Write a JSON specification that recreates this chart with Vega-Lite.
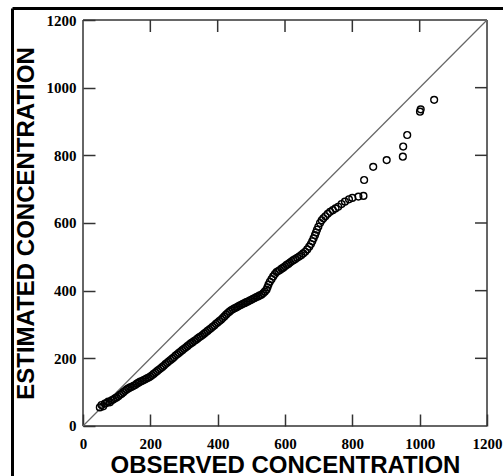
{
  "$schema": "https://vega.github.io/schema/vega-lite/v6.json",
  "width": 491,
  "height": 468,
  "autosize": "none",
  "padding": {"left": 12, "top": 8, "right": 0, "bottom": 0},
  "background": "white",
  "config": {
    "view": {"stroke": null},
    "axis": {"grid": false, "domain": false, "labelFlush": false, "tickColor": "#333", "tickWidth": 1.5, "tickSize": -12}
  },
  "resolve": {"axis": {"x": "independent", "y": "independent"}},
  "layer": [
    {
      "data": {"values": [
        {"x": 0, "y": 0, "x2": 1200, "y2": 0},
        {"x": 0, "y": 1200, "x2": 1200, "y2": 1200},
        {"x": 0, "y": 0, "x2": 0, "y2": 1200},
        {"x": 1200, "y": 0, "x2": 1200, "y2": 1200},
        {"x": 200, "y": 1200, "x2": 200, "y2": 1164.5},
        {"x": 400, "y": 1200, "x2": 400, "y2": 1164.5},
        {"x": 600, "y": 1200, "x2": 600, "y2": 1164.5},
        {"x": 800, "y": 1200, "x2": 800, "y2": 1164.5},
        {"x": 1000, "y": 1200, "x2": 1000, "y2": 1164.5},
        {"x": 1200, "y": 200, "x2": 1164.4, "y2": 200},
        {"x": 1200, "y": 400, "x2": 1164.4, "y2": 400},
        {"x": 1200, "y": 600, "x2": 1164.4, "y2": 600},
        {"x": 1200, "y": 800, "x2": 1164.4, "y2": 800},
        {"x": 1200, "y": 1000, "x2": 1164.4, "y2": 1000}
      ]},
      "mark": {"type": "rule", "stroke": "#333", "strokeWidth": 1.5},
      "encoding": {
        "x": {"field": "x", "type": "quantitative", "scale": {"domain": [-210.9, 1247.5], "nice": false, "zero": false},
              "axis": {"orient": "top", "offset": 0, "domain": true, "domainColor": "black", "domainWidth": 3, "ticks": false, "labels": false, "title": null}},
        "y": {"field": "y", "type": "quantitative", "scale": {"domain": [-147.8, 1235.47], "nice": false, "zero": false},
              "axis": {"orient": "right", "offset": -491, "domain": true, "domainColor": "black", "domainWidth": 3, "ticks": false, "labels": false, "title": null}},
        "x2": {"field": "x2"},
        "y2": {"field": "y2"}
      }
    },
    {
      "data": {"values": [{"x": 0, "y": 0, "x2": 1200, "y2": 1200}]},
      "mark": {"type": "rule", "stroke": "#666", "strokeWidth": 1.2},
      "encoding": {
        "x": {"field": "x", "type": "quantitative", "scale": {"domain": [-210.9, 1247.5], "nice": false, "zero": false}, "axis": null},
        "y": {"field": "y", "type": "quantitative", "scale": {"domain": [-147.8, 1235.47], "nice": false, "zero": false}, "axis": null},
        "x2": {"field": "x2"},
        "y2": {"field": "y2"}
      }
    },
    {
      "data": {"values": [
        {"o":50,"e":55},{"o":55,"e":62},{"o":60,"e":58},{"o":65,"e":66},{"o":70,"e":68},{"o":75,"e":72},{"o":80,"e":70},{"o":85,"e":76},{"o":90,"e":78},{"o":95,"e":82},
        {"o":100,"e":84},{"o":105,"e":88},{"o":110,"e":92},{"o":115,"e":95},{"o":120,"e":100},{"o":125,"e":104},{"o":130,"e":108},{"o":135,"e":111},{"o":140,"e":114},{"o":145,"e":116},
        {"o":150,"e":119},{"o":155,"e":121},{"o":160,"e":125},{"o":165,"e":128},{"o":170,"e":131},{"o":175,"e":133},{"o":180,"e":136},{"o":185,"e":138},{"o":190,"e":141},{"o":195,"e":143},
        {"o":200,"e":146},{"o":205,"e":150},{"o":210,"e":154},{"o":215,"e":158},{"o":220,"e":162},{"o":225,"e":166},{"o":230,"e":170},{"o":235,"e":174},{"o":240,"e":178},{"o":245,"e":183},
        {"o":250,"e":187},{"o":255,"e":191},{"o":260,"e":195},{"o":265,"e":199},{"o":270,"e":203},{"o":275,"e":208},{"o":280,"e":212},{"o":285,"e":216},{"o":290,"e":220},{"o":295,"e":224},
        {"o":300,"e":228},{"o":305,"e":232},{"o":310,"e":236},{"o":315,"e":240},{"o":320,"e":244},{"o":325,"e":247},{"o":330,"e":251},{"o":335,"e":254},{"o":340,"e":258},{"o":345,"e":262},
        {"o":350,"e":265},{"o":355,"e":269},{"o":360,"e":273},{"o":365,"e":277},{"o":370,"e":281},{"o":375,"e":285},{"o":380,"e":289},{"o":385,"e":293},{"o":390,"e":297},{"o":395,"e":302},
        {"o":400,"e":306},{"o":405,"e":310},{"o":410,"e":314},{"o":415,"e":319},{"o":420,"e":324},{"o":425,"e":329},{"o":430,"e":334},{"o":435,"e":338},{"o":440,"e":342},{"o":445,"e":345},
        {"o":450,"e":348},{"o":455,"e":350},{"o":460,"e":353},{"o":465,"e":356},{"o":470,"e":358},{"o":475,"e":361},{"o":480,"e":363},{"o":485,"e":366},{"o":490,"e":368},{"o":495,"e":371},
        {"o":500,"e":373},{"o":505,"e":376},{"o":510,"e":378},{"o":515,"e":381},{"o":520,"e":383},{"o":525,"e":386},{"o":530,"e":388},{"o":535,"e":392},{"o":540,"e":397},{"o":545,"e":403},
        {"o":548,"e":410},{"o":551,"e":418},{"o":555,"e":426},{"o":560,"e":434},{"o":565,"e":442},{"o":570,"e":449},{"o":575,"e":455},{"o":580,"e":458},{"o":585,"e":461},{"o":590,"e":465},
        {"o":595,"e":468},{"o":600,"e":472},{"o":605,"e":476},{"o":610,"e":479},{"o":615,"e":483},{"o":620,"e":487},{"o":625,"e":490},{"o":630,"e":493},{"o":636,"e":497},{"o":642,"e":501},
        {"o":648,"e":505},{"o":654,"e":510},{"o":660,"e":515},{"o":666,"e":522},{"o":672,"e":530},{"o":677,"e":538},{"o":681,"e":546},{"o":685,"e":555},{"o":689,"e":564},{"o":692,"e":572},
        {"o":695,"e":580},{"o":699,"e":589},{"o":704,"e":600},{"o":709,"e":608},{"o":714,"e":614},{"o":720,"e":620},{"o":727,"e":627},{"o":734,"e":633},{"o":742,"e":638},{"o":750,"e":643},
        {"o":758,"e":648},{"o":768,"e":656},{"o":778,"e":663},{"o":790,"e":670},{"o":800,"e":674},{"o":818,"e":678},{"o":833,"e":680},{"o":835,"e":727},{"o":862,"e":766},{"o":902,"e":786},
        {"o":950,"e":796},{"o":951,"e":826},{"o":963,"e":860},{"o":1001,"e":929},{"o":1003,"e":936},{"o":1043,"e":964}
      ]},
      "mark": {"type": "point", "shape": "circle", "filled": false, "stroke": "black", "strokeWidth": 1.4, "size": 46, "opacity": 1},
      "encoding": {
        "x": {"field": "o", "type": "quantitative", "scale": {"domain": [-210.9, 1247.5], "nice": false, "zero": false},
              "axis": {"orient": "bottom", "offset": -50, "values": [0, 200, 400, 600, 800, 1000, 1200], "format": "d", "labelPadding": 22,
                       "labelFont": "Liberation Serif", "labelFontWeight": "bold", "labelFontSize": 15, "labelColor": "black",
                       "title": "OBSERVED CONCENTRATION", "titleFont": "Liberation Sans", "titleFontWeight": "bold", "titleFontSize": 24, "titleColor": "black",
                       "titleX": 273, "titleY": 46, "titleBaseline": "alphabetic", "titleAlign": "center"}},
        "y": {"field": "e", "type": "quantitative", "scale": {"domain": [-147.8, 1235.47], "nice": false, "zero": false},
              "axis": {"orient": "left", "offset": -71, "values": [0, 200, 400, 600, 800, 1000, 1200], "format": "d", "labelPadding": 19,
                       "labelFont": "Liberation Serif", "labelFontWeight": "bold", "labelFontSize": 15, "labelColor": "black",
                       "title": "ESTIMATED CONCENTRATION", "titleFont": "Liberation Sans", "titleFontWeight": "bold", "titleFontSize": 24, "titleColor": "black",
                       "titleX": -50, "titleY": 215, "titleBaseline": "alphabetic", "titleAlign": "center", "titleAngle": 270}}
      }
    }
  ]
}
